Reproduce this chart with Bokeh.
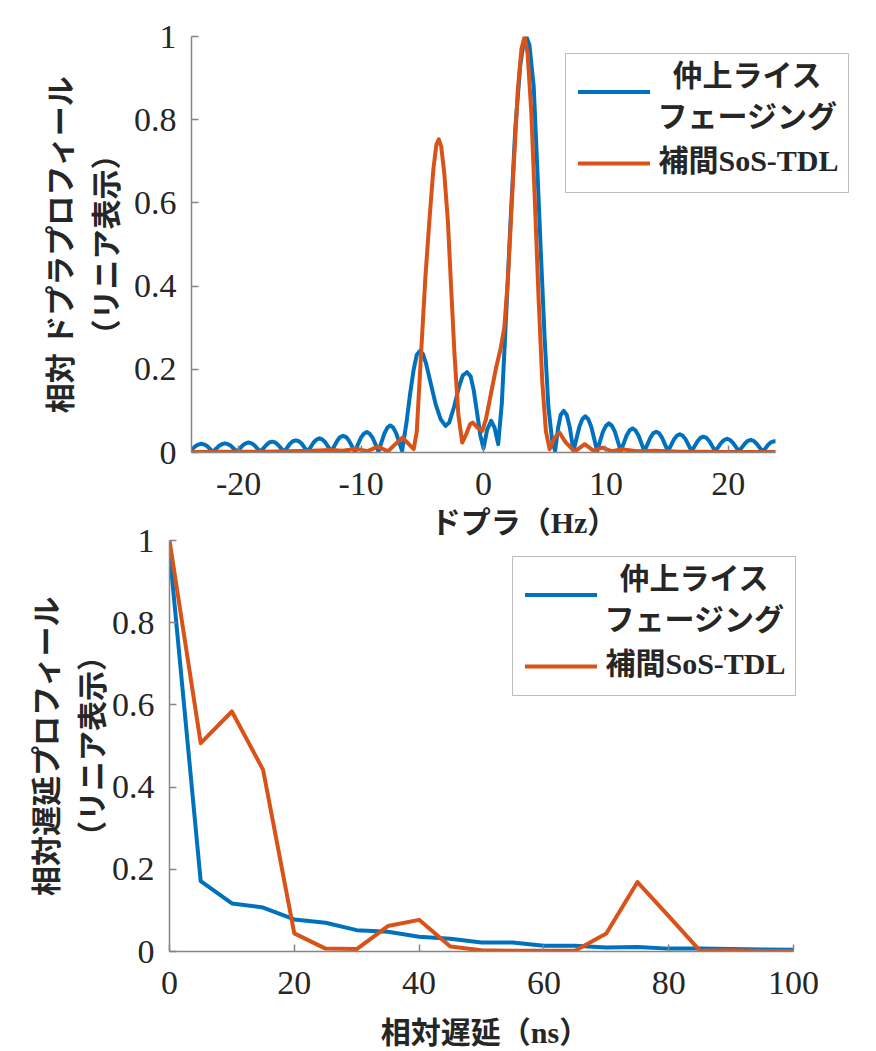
from bokeh.plotting import figure
from bokeh.models import FixedTicker, Range1d, BoxAnnotation, Label
from bokeh.embed import file_html
from bokeh.resources import INLINE

# ---------------- data: Doppler profile (top) ----------------
dop_rice_hz = [-23.85, -23.53, -23.29, -23.04, -22.80, -22.56, -22.32, -22.08,
               -21.84, -21.60, -21.36, -21.115, -20.87, -20.63, -20.39, -20.15,
               -19.91, -19.67, -19.43, -19.185, -18.94, -18.70, -18.46, -18.22,
               -17.98, -17.74, -17.50, -17.255, -17.01, -16.77, -16.53, -16.29,
               -16.05, -15.81, -15.57, -15.325, -15.08, -14.84, -14.60, -14.36,
               -14.12, -13.88, -13.64, -13.395, -13.15, -12.91, -12.67, -12.43,
               -12.19, -11.95, -11.71, -11.465, -11.22, -10.98, -10.74, -10.50,
               -10.26, -10.02, -9.78, -9.535, -9.29, -9.05, -8.81, -8.57,
               -8.33, -8.09, -7.85, -7.61, -7.37, -7.13, -6.89, -6.65,
               -6.3, -6.0, -5.7, -5.45, -5.2, -4.95, -4.7, -4.3, -3.9, -3.5, -3.1,
               -2.8, -2.4, -2.0, -1.7, -1.35, -1.05, -0.8, -0.5, -0.25, 0.0,
               0.3, 0.63, 0.9, 1.2,
               1.5, 1.8, 2.2, 2.6, 3.0, 3.3, 3.5, 3.75, 4.1, 4.4, 4.7, 5.0, 5.3, 5.6, 5.85,
               6.1, 6.3, 6.55, 6.8, 7.05, 7.35,
               7.59, 7.83, 8.07, 8.315, 8.56, 8.80, 9.04, 9.28,
               9.52, 9.76, 10.00, 10.245, 10.49, 10.73, 10.97, 11.21,
               11.45, 11.69, 11.93, 12.175, 12.42, 12.66, 12.90, 13.14,
               13.38, 13.62, 13.86, 14.105, 14.35, 14.59, 14.83, 15.07,
               15.31, 15.55, 15.79, 16.035, 16.28, 16.52, 16.76, 17.00,
               17.24, 17.48, 17.72, 17.965, 18.21, 18.45, 18.69, 18.93,
               19.17, 19.41, 19.65, 19.895, 20.14, 20.38, 20.62, 20.86,
               21.10, 21.34, 21.58, 21.825, 22.07, 22.31, 22.55, 22.79,
               23.03, 23.27, 23.51, 23.755, 23.85]
dop_rice_val = [0.007, 0.015, 0.019, 0.021, 0.019, 0.015, 0.008, 0.002,
                0.009, 0.016, 0.020, 0.022, 0.020, 0.016, 0.009, 0.002,
                0.009, 0.017, 0.022, 0.024, 0.022, 0.017, 0.009, 0.002,
                0.010, 0.018, 0.024, 0.026, 0.024, 0.018, 0.010, 0.002,
                0.011, 0.021, 0.027, 0.029, 0.027, 0.021, 0.011, 0.002,
                0.013, 0.024, 0.031, 0.034, 0.031, 0.024, 0.013, 0.002,
                0.015, 0.028, 0.037, 0.040, 0.037, 0.028, 0.015, 0.002,
                0.019, 0.035, 0.045, 0.049, 0.045, 0.035, 0.019, 0.002,
                0.025, 0.046, 0.060, 0.065, 0.060, 0.046, 0.025, 0.004,
                0.07, 0.14, 0.20, 0.235, 0.244, 0.237, 0.215, 0.165, 0.115, 0.080, 0.064,
                0.072, 0.11, 0.158, 0.185, 0.193, 0.183, 0.15, 0.09, 0.04, 0.01,
                0.055, 0.076, 0.06, 0.02,
                0.12, 0.30, 0.55, 0.78, 0.93, 0.99, 1.0, 0.98, 0.88, 0.68, 0.47, 0.27, 0.11, 0.03, 0.004,
                0.060, 0.090, 0.100, 0.090, 0.060, 0.003,
                0.033, 0.062, 0.080, 0.087, 0.080, 0.062, 0.033, 0.003,
                0.027, 0.050, 0.064, 0.070, 0.064, 0.050, 0.027, 0.003,
                0.022, 0.041, 0.053, 0.058, 0.053, 0.041, 0.022, 0.003,
                0.019, 0.035, 0.046, 0.050, 0.046, 0.035, 0.019, 0.003,
                0.017, 0.031, 0.040, 0.044, 0.040, 0.031, 0.017, 0.003,
                0.015, 0.027, 0.035, 0.038, 0.035, 0.027, 0.015, 0.003,
                0.013, 0.023, 0.030, 0.033, 0.030, 0.023, 0.013, 0.003,
                0.012, 0.021, 0.028, 0.030, 0.028, 0.021, 0.012, 0.003,
                0.010, 0.019, 0.025, 0.027, 0.027]

dop_sos_hz = [-23.85, -22.0, -20.0, -18.0, -16.0, -14.0, -12.5, -11.5, -10.4, -9.5,
              -8.64, -7.8, -7.2, -6.6, -6.1, -5.7, -5.45, -5.1, -4.75, -4.42,
              -4.1, -3.85, -3.65, -3.45, -3.2, -2.91, -2.65, -2.37, -2.05, -1.74,
              -1.4, -1.1, -0.87, -0.5, -0.1, 0.2, 0.6, 1.0, 1.4, 1.7,
              2.0, 2.4, 2.8, 3.1, 3.36, 3.6, 3.9, 4.2, 4.5, 4.8,
              5.1, 5.4, 5.8, 6.2, 6.7, 7.45, 8.27, 9.0, 9.7, 10.5,
              11.3, 12.5, 14.0, 16.0, 18.0, 20.0, 22.0, 23.85]
dop_sos_val = [0.001, 0.002, 0.002, 0.002, 0.003, 0.004, 0.006, 0.004, 0.009, 0.003,
               0.014, 0.003, 0.020, 0.036, 0.020, 0.008, 0.05, 0.237, 0.42, 0.557,
               0.68, 0.74, 0.753, 0.735, 0.67, 0.557, 0.40, 0.237, 0.09, 0.024,
               0.045, 0.068, 0.072, 0.060, 0.052, 0.08, 0.14, 0.20, 0.25, 0.30,
               0.42, 0.65, 0.87, 0.97, 1.0, 0.96, 0.82, 0.60, 0.37, 0.17,
               0.05, 0.008, 0.035, 0.048, 0.025, 0.002, 0.020, 0.004, 0.012, 0.003,
               0.008, 0.003, 0.004, 0.002, 0.002, 0.001, 0.001, 0.001]

# ---------------- data: delay profile (bottom) ----------------
delay_ns = [0, 5, 10, 15, 20, 25, 30, 35, 40, 45, 50, 55, 60, 65, 70, 75, 80, 85, 90, 95, 100]
delay_rice = [0.975, 0.171, 0.117, 0.107, 0.078, 0.070, 0.052, 0.048, 0.036, 0.031, 0.022,
              0.022, 0.014, 0.014, 0.010, 0.011, 0.007, 0.007, 0.006, 0.005, 0.004]
delay_sos = [1.0, 0.507, 0.584, 0.442, 0.044, 0.007, 0.006, 0.062, 0.077, 0.012, 0.003,
             0.002, 0.002, 0.002, 0.044, 0.169, 0.086, 0.002, 0.003, 0.001, 0.001]

# ---------------- ticks / labels ----------------
dop_limits = (-23.85, 23.85)
delay_limits = (0, 100)
dop_ticks = [-20, -10, 0, 10, 20]
dop_tick_labels = ["-20", "-10", "0", "10", "20"]
delay_ticks = [0, 20, 40, 60, 80, 100]
delay_tick_labels = ["0", "20", "40", "60", "80", "100"]
y_ticks = [0, 0.2, 0.4, 0.6, 0.8, 1]
y_tick_labels = ["0", "0.2", "0.4", "0.6", "0.8", "1"]

legend_rice_lines = ["仲上ライス", "フェージング"]
legend_sos = "補間SoS-TDL"
top_xlabel = "ドプラ（Hz）"
top_ylabel = "相対 ドプラプロフィール\n（リニア表示）"
bot_xlabel = "相対遅延（ns）"
bot_ylabel = "相対遅延プロフィール\n（リニア表示）"

BLUE = "#0072BD"
ORANGE = "#D95319"
FONT = "'Liberation Serif', 'Noto Sans CJK JP'"
AXC = "#858585"
TXT = "#262626"


def style(p, xt, xl, xbounds, xstand, ystand):
    p.xaxis.ticker = FixedTicker(ticks=xt)
    p.xaxis.major_label_overrides = dict(zip(xt, xl))
    p.xaxis.bounds = xbounds
    p.yaxis.ticker = FixedTicker(ticks=y_ticks)
    p.yaxis.major_label_overrides = dict(zip(y_ticks, y_tick_labels))
    p.xgrid.visible = False
    p.ygrid.visible = False
    p.outline_line_color = None
    p.background_fill_color = "white"
    for ax in (p.xaxis[0], p.yaxis[0]):
        ax.axis_line_color = AXC
        ax.axis_line_width = 1.5
        ax.major_tick_line_color = AXC
        ax.major_tick_line_width = 1.5
        ax.major_tick_in = 7
        ax.major_tick_out = 0
        ax.minor_tick_line_color = None
        ax.major_label_text_font = FONT
        ax.major_label_text_font_size = "34px"
        ax.major_label_text_color = TXT
        ax.axis_label_text_font = FONT
        ax.axis_label_text_font_size = "30px"
        ax.axis_label_text_font_style = "bold"
        ax.axis_label_text_color = TXT
        ax.axis_label_text_line_height = 1.38
    p.xaxis.major_label_standoff = 20
    p.yaxis.major_label_standoff = 15
    p.xaxis.axis_label_standoff = xstand
    p.yaxis.axis_label_standoff = ystand


def add_legend(p, left, top):
    """Legend box drawn in screen pixels relative to the frame's bottom-left corner."""
    W, H = 283, 139
    def box(l, r, t, b, fill, line):
        return BoxAnnotation(left=l, right=r, top=t, bottom=b,
                             left_units="screen", right_units="screen",
                             top_units="screen", bottom_units="screen",
                             fill_color=fill, fill_alpha=1,
                             line_color=line, line_width=1, level="annotation")
    p.add_layout(box(left, left + W, top, top - H, "white", TXT))
    p.add_layout(box(left + 12.5, left + 84.5, top - 36.5, top - 40.5, BLUE, None))
    p.add_layout(box(left + 12.5, left + 84.5, top - 108, top - 112, ORANGE, None))
    common = dict(x_units="screen", y_units="screen", text_font=FONT, text_font_size="30px",
                  text_font_style="bold", text_color=TXT, text_baseline="middle")
    p.add_layout(Label(x=left + 182, y=top - 22, text=legend_rice_lines[0], text_align="center", **common))
    p.add_layout(Label(x=left + 182, y=top - 63, text=legend_rice_lines[1], text_align="center", **common))
    p.add_layout(Label(x=left + 93, y=top - 107, text=legend_sos, text_align="left", **common))


# ---------------- top figure ----------------
# frame: left 191, right 856 (room for legend), data span maps to 584 px
top_w, top_h = 868, 548
top_l, top_r, top_t, top_b = 191, 12, 36, 96
top_frame_w = top_w - top_l - top_r
top_xend = dop_limits[0] + top_frame_w * (dop_limits[1] - dop_limits[0]) / 584.0
p1 = figure(width=top_w, height=top_h, output_backend="svg", toolbar_location=None,
            x_range=Range1d(dop_limits[0], top_xend), y_range=Range1d(0, 1),
            min_border_left=top_l, min_border_right=top_r, min_border_top=top_t,
            min_border_bottom=top_b,
            x_axis_label=top_xlabel, y_axis_label=top_ylabel)
p1.border_fill_color = "white"
p1.line(dop_rice_hz, dop_rice_val, line_color=BLUE, line_width=4, line_join="round")
p1.line(dop_sos_hz, dop_sos_val, line_color=ORANGE, line_width=4, line_join="round")
style(p1, dop_ticks, dop_tick_labels, dop_limits, 8, 8)
add_legend(p1, 374, 399)

# ---------------- bottom figure ----------------
bot_w, bot_h = 868, 531
bot_l, bot_r, bot_t, bot_b = 169, 68, 20, 99
bot_frame_w = bot_w - bot_l - bot_r
bot_xend = delay_limits[0] + bot_frame_w * (delay_limits[1] - delay_limits[0]) / 624.0
p2 = figure(width=bot_w, height=bot_h, output_backend="svg", toolbar_location=None,
            x_range=Range1d(delay_limits[0], bot_xend), y_range=Range1d(0, 1),
            min_border_left=bot_l, min_border_right=bot_r, min_border_top=bot_t,
            min_border_bottom=bot_b,
            x_axis_label=bot_xlabel, y_axis_label=bot_ylabel)
p2.border_fill_color = None
p2.styles = {"margin-top": "-28px"}
p2.line(delay_ns, delay_rice, line_color=BLUE, line_width=4, line_join="round")
p2.line(delay_ns, delay_sos, line_color=ORANGE, line_width=4, line_join="round")
style(p2, delay_ticks, delay_tick_labels, delay_limits, 19, 0)
add_legend(p2, 343, 395)

open("out.html", "w").write(file_html([p1, p2], INLINE))
